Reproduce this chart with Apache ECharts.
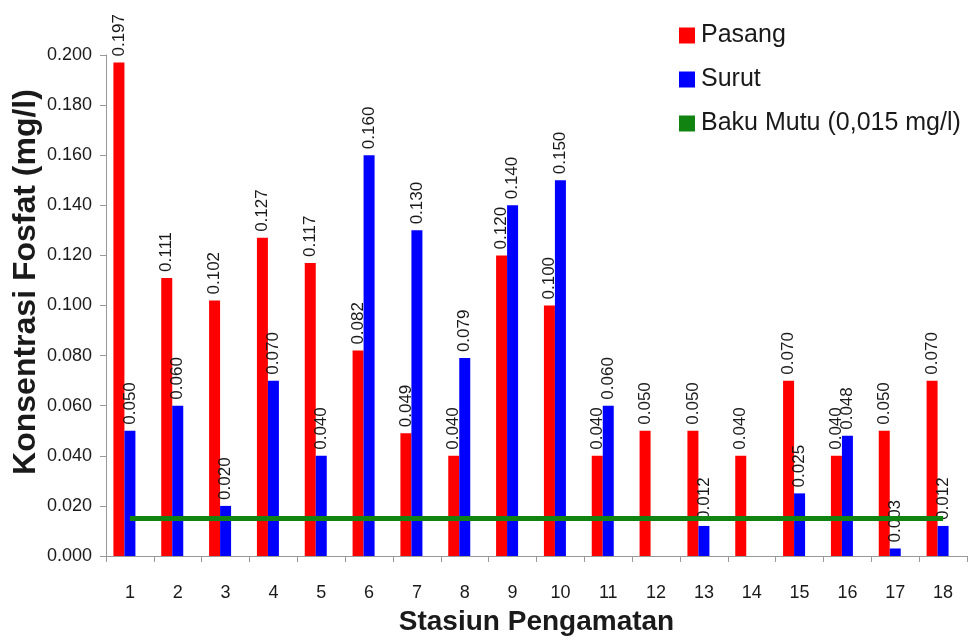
<!DOCTYPE html>
<html>
<head>
<meta charset="utf-8">
<script src="https://cdn.jsdelivr.net/npm/echarts@6/dist/echarts.min.js"></script>
<style>
  html, body { margin: 0; padding: 0; background: #ffffff; }
  #chart { width: 971px; height: 641px; }
</style>
</head>
<body>
<div id="chart"></div>
<script>
// Phosphate concentration per observation station, high tide vs low tide
var stations = ['1','2','3','4','5','6','7','8','9','10','11','12','13','14','15','16','17','18'];
var pasang = [0.197, 0.111, 0.102, 0.127, 0.117, 0.082, 0.049, 0.040, 0.120, 0.100, 0.040, 0.050, 0.050, 0.040, 0.070, 0.040, 0.050, 0.070];
var surut  = [0.050, 0.060, 0.020, 0.070, 0.040, 0.160, 0.130, 0.079, 0.140, 0.150, 0.060, null, 0.012, null, 0.025, 0.048, 0.003, 0.012];
var bakuMutu = [0.015, 0.015, 0.015, 0.015, 0.015, 0.015, 0.015, 0.015, 0.015, 0.015, 0.015, 0.015, 0.015, 0.015, 0.015, 0.015, 0.015, 0.015];
var yTicks = { min: 0, max: 0.2, step: 0.02 };

var FONT = 'Liberation Sans, Arial, sans-serif';
var TEXT = '#1a1a1a';

var valueLabel = {
  show: true,
  position: 'top',
  rotate: 90,
  align: 'left',
  verticalAlign: 'middle',
  distance: 6,
  fontFamily: FONT,
  fontSize: 17,
  color: TEXT,
  formatter: function (p) { return p.value == null ? '' : p.value.toFixed(3); }
};

var chart = echarts.init(document.getElementById('chart'), null, { renderer: 'canvas' });
chart.setOption({
  backgroundColor: '#ffffff',
  animation: false,
  grid: { left: 106, right: 4, top: 55, bottom: 84, containLabel: false },
  legend: {
    data: ['Pasang', 'Surut', 'Baku Mutu (0,015 mg/l)'],
    orient: 'vertical',
    left: 674,
    top: 18,
    icon: 'rect',
    itemWidth: 16,
    itemHeight: 16,
    itemGap: 19,
    textStyle: { fontFamily: FONT, fontSize: 25, color: TEXT, padding: [0, 0, 0, 1] }
  },
  xAxis: {
    type: 'category',
    data: stations,
    name: 'Stasiun Pengamatan',
    nameLocation: 'middle',
    nameGap: 52,
    nameTextStyle: { fontFamily: FONT, fontSize: 28, fontWeight: 'bold', color: TEXT, verticalAlign: 'top' },
    axisLine: { lineStyle: { color: '#999999', width: 1 } },
    axisTick: { show: true, length: 6, lineStyle: { color: '#999999' } },
    axisLabel: { fontFamily: FONT, fontSize: 18, color: TEXT, margin: 28 },
    splitLine: { show: false }
  },
  yAxis: {
    type: 'value',
    min: yTicks.min,
    max: yTicks.max,
    interval: yTicks.step,
    axisLine: { show: true, lineStyle: { color: '#999999', width: 1 } },
    axisTick: { show: true, length: 6, lineStyle: { color: '#999999' } },
    axisLabel: {
      fontFamily: FONT, fontSize: 18, color: TEXT, margin: 14,
      formatter: function (v) { return v.toFixed(3); }
    },
    splitLine: { show: false }
  },
  graphic: [{
    type: 'text',
    x: 26,
    y: 282,
    rotation: Math.PI / 2,
    style: {
      text: 'Konsentrasi Fosfat (mg/l)',
      font: 'bold 32px ' + FONT,
      fill: TEXT,
      textAlign: 'center',
      textVerticalAlign: 'middle'
    }
  }],
  series: [
    {
      name: 'Pasang',
      type: 'bar',
      data: pasang,
      barWidth: 11,
      barGap: '0%',
      itemStyle: { color: '#ff0000' },
      label: valueLabel
    },
    {
      name: 'Surut',
      type: 'bar',
      data: surut,
      barWidth: 11,
      barGap: '0%',
      itemStyle: { color: '#0000ff' },
      label: valueLabel
    },
    {
      // empty third slot in each group, keeps the pair left of centre
      name: 'slot',
      type: 'bar',
      data: [],
      barWidth: 11,
      barGap: '0%'
    },
    {
      name: 'Baku Mutu (0,015 mg/l)',
      type: 'line',
      data: bakuMutu,
      symbol: 'none',
      z: 5,
      lineStyle: { color: '#118311', width: 5 },
      itemStyle: { color: '#118311' }
    }
  ]
});
</script>
</body>
</html>
